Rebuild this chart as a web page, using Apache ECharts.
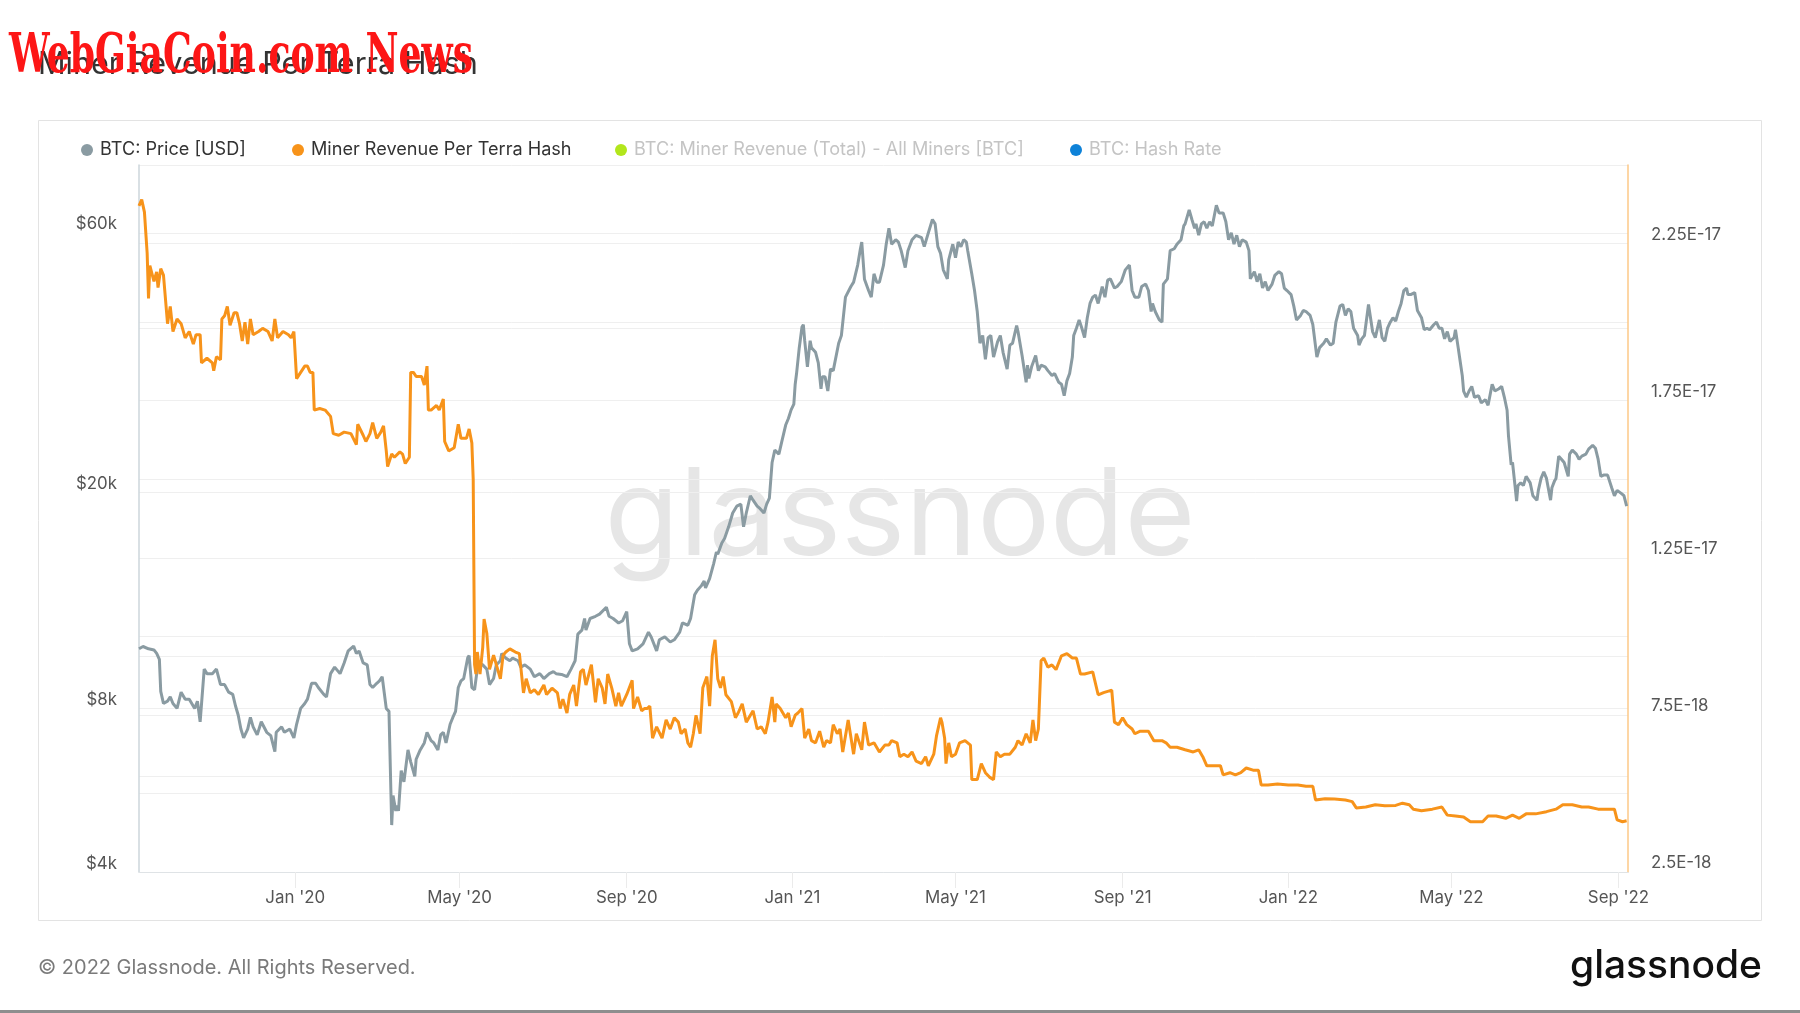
<!DOCTYPE html>
<html>
<head>
<meta charset="utf-8">
<script src="https://cdn.jsdelivr.net/npm/echarts@6/dist/echarts.min.js"></script>
<style>
html,body{margin:0;padding:0;background:#fff;}
#chart{width:1800px;height:1013px;}
</style>
</head>
<body>
<div id="chart"></div>
<script>
// ---------------- DATA ----------------
const titleText = 'Miner Revenue Per Terra Hash';
const legendNames = ['BTC: Price [USD]', 'Miner Revenue Per Terra Hash', 'BTC: Miner Revenue (Total) - All Miners [BTC]', 'BTC: Hash Rate'];
const xTickDates = ['2020-01-01','2020-05-01','2020-09-01','2021-01-01','2021-05-01','2021-09-01','2022-01-01','2022-05-01','2022-09-01'];
const xRange = ['2019-09-08', '2022-09-08'];
const monthNames = ['Jan','Feb','Mar','Apr','May','Jun','Jul','Aug','Sep','Oct','Nov','Dec'];
const leftGridValues = [4000, 6000, 8000, 10000, 20000, 40000, 60000];
const leftLabelValues = [4000, 8000, 20000, 60000];

// BTC price [USD]
const btcPrice = [
['2019-09-08',10300],['2019-09-11',10400],['2019-09-15',10300],['2019-09-19',10250],['2019-09-21',10100],['2019-09-23',9850],
['2019-09-24',8600],['2019-09-26',8170],['2019-09-29',8250],['2019-10-01',8400],['2019-10-03',8170],['2019-10-06',8000],
['2019-10-09',8570],['2019-10-12',8320],['2019-10-15',8320],['2019-10-19',8000],['2019-10-21',8250],['2019-10-23',7560],
['2019-10-26',9450],['2019-10-28',9270],['2019-11-01',9270],['2019-11-04',9450],['2019-11-07',8850],['2019-11-10',8850],
['2019-11-13',8570],['2019-11-16',8490],['2019-11-18',8090],['2019-11-20',7780],['2019-11-22',7330],['2019-11-24',7060],
['2019-11-27',7330],['2019-11-29',7700],['2019-12-01',7400],['2019-12-04',7150],['2019-12-07',7560],['2019-12-11',7230],
['2019-12-14',7130],['2019-12-17',6660],['2019-12-18',7230],['2019-12-22',7400],['2019-12-24',7230],['2019-12-28',7330],
['2019-12-31',7060],['2020-01-02',7480],['2020-01-05',8000],['2020-01-08',8170],['2020-01-10',8320],['2020-01-13',8900],
['2020-01-16',8900],['2020-01-18',8740],['2020-01-22',8490],['2020-01-24',8400],['2020-01-27',9270],['2020-01-30',9530],
['2020-02-03',9270],['2020-02-06',9700],['2020-02-09',10210],['2020-02-13',10420],['2020-02-15',10100],['2020-02-17',10200],
['2020-02-20',9700],['2020-02-23',9620],['2020-02-25',8850],['2020-02-27',8740],['2020-03-01',8900],['2020-03-03',8990],
['2020-03-05',9150],['2020-03-08',8000],['2020-03-10',7900],['2020-03-12',4880],['2020-03-13',5530],['2020-03-15',5180],
['2020-03-16',5300],['2020-03-17',5180],['2020-03-19',6150],['2020-03-21',5860],['2020-03-24',6710],['2020-03-26',6380],
['2020-03-29',6000],['2020-03-30',6450],['2020-04-02',6710],['2020-04-05',6910],['2020-04-07',7230],['2020-04-10',6980],
['2020-04-12',6910],['2020-04-15',6710],['2020-04-17',7150],['2020-04-19',7230],['2020-04-21',6910],['2020-04-24',7480],
['2020-04-26',7700],['2020-04-28',7900],['2020-04-30',8740],['2020-05-02',8990],['2020-05-04',9080],['2020-05-07',9920],
['2020-05-08',10010],['2020-05-10',8740],['2020-05-12',8660],['2020-05-14',9450],['2020-05-15',9700],['2020-05-18',9620],
['2020-05-21',9450],['2020-05-23',8850],['2020-05-26',9080],['2020-05-28',9620],['2020-05-31',9790],['2020-06-01',10100],
['2020-06-04',9900],['2020-06-07',9790],['2020-06-09',9900],['2020-06-13',9790],['2020-06-15',9530],['2020-06-18',9620],
['2020-06-22',9450],['2020-06-25',9150],['2020-06-29',9270],['2020-07-02',9080],['2020-07-06',9270],['2020-07-09',9350],
['2020-07-11',9270],['2020-07-15',9240],['2020-07-19',9150],['2020-07-22',9450],['2020-07-25',9790],['2020-07-27',10960],
['2020-07-30',11150],['2020-08-01',11710],['2020-08-02',11150],['2020-08-05',11710],['2020-08-09',11820],['2020-08-12',11930],
['2020-08-17',12280],['2020-08-19',11820],['2020-08-22',11710],['2020-08-26',11490],['2020-08-29',11600],['2020-09-01',12050],
['2020-09-03',10520],['2020-09-05',10210],['2020-09-09',10300],['2020-09-13',10520],['2020-09-17',11050],['2020-09-19',10830],
['2020-09-23',10210],['2020-09-25',10700],['2020-09-29',10830],['2020-10-03',10600],['2020-10-06',10700],['2020-10-10',11050],
['2020-10-12',11490],['2020-10-16',11380],['2020-10-18',11710],['2020-10-21',12950],['2020-10-23',13200],['2020-10-26',13460],
['2020-10-28',13720],['2020-10-29',13330],['2020-11-01',13860],['2020-11-04',14780],['2020-11-06',15520],['2020-11-07',15370],
['2020-11-10',16130],['2020-11-12',16440],['2020-11-15',17270],['2020-11-18',18310],['2020-11-21',18850],['2020-11-24',19010],
['2020-11-26',17270],['2020-11-28',18310],['2020-12-01',19700],['2020-12-03',19330],['2020-12-06',18850],['2020-12-08',18670],
['2020-12-11',18310],['2020-12-13',19010],['2020-12-15',19500],['2020-12-17',22680],['2020-12-19',23900],['2020-12-22',23500],
['2020-12-24',24700],['2020-12-27',26580],['2020-12-29',27330],['2020-12-31',28340],['2021-01-02',29040],['2021-01-03',31600],
['2021-01-04',33060],['2021-01-06',36890],['2021-01-08',40270],['2021-01-09',40660],['2021-01-10',38000],['2021-01-12',34020],
['2021-01-14',38000],['2021-01-15',36890],['2021-01-18',36170],['2021-01-20',34600],['2021-01-22',31000],['2021-01-23',32600],
['2021-01-25',32600],['2021-01-27',30700],['2021-01-29',33700],['2021-01-31',33470],['2021-02-04',37600],['2021-02-06',38840],
['2021-02-09',45700],['2021-02-10',46000],['2021-02-13',47800],['2021-02-15',48700],['2021-02-18',52350],['2021-02-20',56100],
['2021-02-21',57700],['2021-02-23',49300],['2021-02-26',47000],['2021-02-28',45700],['2021-03-02',50450],['2021-03-04',48700],
['2021-03-06',48700],['2021-03-09',52350],['2021-03-11',57200],['2021-03-13',61200],['2021-03-15',57200],['2021-03-18',58300],
['2021-03-20',57700],['2021-03-22',55650],['2021-03-25',51800],['2021-03-27',55650],['2021-03-30',58300],['2021-04-02',59400],
['2021-04-06',58800],['2021-04-08',56600],['2021-04-11',60000],['2021-04-14',63500],['2021-04-16',62350],['2021-04-18',56600],
['2021-04-20',55000],['2021-04-22',51300],['2021-04-25',49390],['2021-04-26',53500],['2021-04-29',57200],['2021-05-01',54000],
['2021-05-03',57700],['2021-05-05',56600],['2021-05-07',58300],['2021-05-09',57700],['2021-05-10',55650],['2021-05-13',50400],
['2021-05-15',47000],['2021-05-17',43000],['2021-05-19',37600],['2021-05-21',38840],['2021-05-23',35100],['2021-05-25',38500],
['2021-05-27',38840],['2021-05-29',35450],['2021-06-01',37850],['2021-06-03',38840],['2021-06-05',36170],['2021-06-08',33700],
['2021-06-10',37290],['2021-06-12',37600],['2021-06-15',40500],['2021-06-16',39500],['2021-06-19',35700],['2021-06-22',31850],
['2021-06-23',34250],['2021-06-24',32400],['2021-06-26',34020],['2021-06-29',35700],['2021-07-01',33470],['2021-07-03',34250],
['2021-07-06',34020],['2021-07-08',33470],['2021-07-11',32800],['2021-07-13',33060],['2021-07-16',31850],['2021-07-18',31600],
['2021-07-20',30100],['2021-07-22',32050],['2021-07-24',33060],['2021-07-26',35450],['2021-07-27',38840],['2021-07-29',40060],
['2021-07-31',41500],['2021-08-02',40060],['2021-08-04',38500],['2021-08-06',41890],['2021-08-08',44500],['2021-08-10',45700],
['2021-08-12',46100],['2021-08-14',44500],['2021-08-17',47800],['2021-08-19',45700],['2021-08-21',49100],['2021-08-23',49390],
['2021-08-26',47500],['2021-08-28',47800],['2021-08-31',48800],['2021-09-03',51300],['2021-09-06',52350],['2021-09-08',47000],
['2021-09-10',45700],['2021-09-13',45700],['2021-09-15',47800],['2021-09-18',48300],['2021-09-20',47000],['2021-09-22',43000],
['2021-09-23',44500],['2021-09-25',43000],['2021-09-28',41500],['2021-09-30',41100],['2021-10-01',48300],['2021-10-04',49390],
['2021-10-06',55650],['2021-10-09',56100],['2021-10-11',57200],['2021-10-14',58300],['2021-10-16',61800],['2021-10-17',62350],
['2021-10-20',66130],['2021-10-22',63500],['2021-10-24',61200],['2021-10-25',62350],['2021-10-27',59400],['2021-10-29',62350],
['2021-10-31',62900],['2021-11-02',61200],['2021-11-04',62900],['2021-11-06',61800],['2021-11-09',67450],['2021-11-11',65300],
['2021-11-14',65300],['2021-11-16',62900],['2021-11-18',58300],['2021-11-20',60000],['2021-11-22',57200],['2021-11-24',59400],
['2021-11-26',56600],['2021-11-28',58300],['2021-12-01',57700],['2021-12-03',55650],['2021-12-04',49390],['2021-12-07',50900],
['2021-12-09',48800],['2021-12-11',50450],['2021-12-13',47500],['2021-12-15',48800],['2021-12-17',47000],['2021-12-20',48300],
['2021-12-22',50100],['2021-12-25',50900],['2021-12-27',50450],['2021-12-29',47500],['2021-12-31',47000],['2022-01-03',46200],
['2022-01-05',44000],['2022-01-07',41500],['2022-01-10',42300],['2022-01-12',43200],['2022-01-14',43000],['2022-01-17',42300],
['2022-01-19',40700],['2022-01-22',35450],['2022-01-24',36900],['2022-01-27',37600],['2022-01-29',38300],['2022-02-01',37300],
['2022-02-03',37600],['2022-02-05',41100],['2022-02-08',44000],['2022-02-10',44300],['2022-02-12',42300],['2022-02-14',43500],
['2022-02-16',43000],['2022-02-18',40060],['2022-02-21',38840],['2022-02-22',37300],['2022-02-24',38300],['2022-02-26',38840],
['2022-03-01',44300],['2022-03-02',44000],['2022-03-04',39500],['2022-03-06',38500],['2022-03-09',41500],['2022-03-11',38500],
['2022-03-13',37900],['2022-03-15',40060],['2022-03-17',41100],['2022-03-19',41890],['2022-03-21',41300],['2022-03-23',43000],
['2022-03-25',44500],['2022-03-27',47000],['2022-03-29',47500],['2022-03-30',46200],['2022-04-01',46200],['2022-04-04',46600],
['2022-04-06',43200],['2022-04-09',41890],['2022-04-11',39800],['2022-04-13',40060],['2022-04-15',39800],['2022-04-18',40660],
['2022-04-20',41100],['2022-04-22',40060],['2022-04-24',40060],['2022-04-26',38300],['2022-04-28',39500],['2022-04-30',37900],
['2022-05-03',38500],['2022-05-04',39800],['2022-05-06',36900],['2022-05-07',35450],['2022-05-09',32800],['2022-05-10',30700],
['2022-05-12',29900],['2022-05-14',30700],['2022-05-16',31300],['2022-05-18',29900],['2022-05-21',30100],['2022-05-23',29200],
['2022-05-26',29600],['2022-05-28',28900],['2022-05-31',31600],['2022-06-02',30700],['2022-06-05',31000],['2022-06-07',31300],
['2022-06-09',29900],['2022-06-11',28300],['2022-06-12',25450],['2022-06-14',22460],['2022-06-15',22680],['2022-06-17',20380],
['2022-06-18',19250],['2022-06-19',20570],['2022-06-21',20800],['2022-06-23',20570],['2022-06-25',21390],['2022-06-28',20800],
['2022-06-30',19700],['2022-07-03',19330],['2022-07-04',20150],['2022-07-06',21200],['2022-07-08',21800],['2022-07-10',21200],
['2022-07-13',19330],['2022-07-14',20380],['2022-07-16',21000],['2022-07-17',21200],['2022-07-19',23300],['2022-07-21',23000],
['2022-07-23',22680],['2022-07-26',21390],['2022-07-27',23500],['2022-07-29',23900],['2022-08-01',23500],['2022-08-03',23000],
['2022-08-05',23300],['2022-08-08',23500],['2022-08-10',24000],['2022-08-13',24400],['2022-08-15',24100],['2022-08-17',23000],
['2022-08-19',21390],['2022-08-21',21500],['2022-08-24',21500],['2022-08-25',21650],['2022-08-27',20380],['2022-08-29',19700],
['2022-08-31',20150],['2022-09-03',19900],['2022-09-05',19700],['2022-09-07',18860]
];

// Miner revenue per terra hash
const revenuePerTH = [
['2019-09-08',23.7e-18],['2019-09-10',23.9e-18],['2019-09-12',23.5e-18],['2019-09-14',22.2e-18],['2019-09-15',20.75e-18],
['2019-09-16',21.8e-18],['2019-09-19',21.3e-18],['2019-09-21',21.6e-18],['2019-09-22',21.1e-18],['2019-09-24',21.7e-18],
['2019-09-26',21.5e-18],['2019-09-29',19.95e-18],['2019-10-01',20.5e-18],['2019-10-03',19.7e-18],['2019-10-06',20.1e-18],
['2019-10-09',19.95e-18],['2019-10-12',19.5e-18],['2019-10-15',19.7e-18],['2019-10-18',19.3e-18],['2019-10-20',19.6e-18],
['2019-10-23',19.6e-18],['2019-10-24',18.7e-18],['2019-10-28',18.85e-18],['2019-11-01',18.7e-18],['2019-11-02',18.45e-18],
['2019-11-04',18.9e-18],['2019-11-07',18.8e-18],['2019-11-08',20.1e-18],['2019-11-10',20.2e-18],['2019-11-12',20.5e-18],
['2019-11-14',19.9e-18],['2019-11-17',20.3e-18],['2019-11-19',20.3e-18],['2019-11-21',19.95e-18],['2019-11-23',19.4e-18],
['2019-11-25',20.0e-18],['2019-11-27',19.3e-18],['2019-11-29',20.1e-18],['2019-12-01',19.6e-18],['2019-12-05',19.7e-18],
['2019-12-08',19.8e-18],['2019-12-12',19.7e-18],['2019-12-15',19.4e-18],['2019-12-17',20.1e-18],['2019-12-19',19.5e-18],
['2019-12-23',19.7e-18],['2019-12-27',19.6e-18],['2019-12-29',19.5e-18],['2019-12-31',19.7e-18],['2020-01-02',18.2e-18],
['2020-01-05',18.4e-18],['2020-01-08',18.6e-18],['2020-01-10',18.6e-18],['2020-01-12',18.4e-18],['2020-01-14',18.4e-18],
['2020-01-15',17.2e-18],['2020-01-19',17.25e-18],['2020-01-23',17.2e-18],['2020-01-27',17.0e-18],['2020-01-29',16.45e-18],
['2020-02-02',16.4e-18],['2020-02-06',16.5e-18],['2020-02-11',16.45e-18],['2020-02-15',16.1e-18],['2020-02-16',16.75e-18],
['2020-02-20',16.4e-18],['2020-02-22',16.2e-18],['2020-02-25',16.45e-18],['2020-02-27',16.8e-18],['2020-03-01',16.3e-18],
['2020-03-04',16.5e-18],['2020-03-06',16.7e-18],['2020-03-08',15.9e-18],['2020-03-09',15.4e-18],['2020-03-12',15.8e-18],
['2020-03-14',15.7e-18],['2020-03-18',15.87e-18],['2020-03-20',15.8e-18],['2020-03-22',15.5e-18],['2020-03-25',15.7e-18],
['2020-03-26',18.4e-18],['2020-03-28',18.4e-18],['2020-03-30',18.27e-18],['2020-04-03',18.27e-18],['2020-04-05',18.0e-18],
['2020-04-07',18.6e-18],['2020-04-08',17.2e-18],['2020-04-10',17.2e-18],['2020-04-14',17.35e-18],['2020-04-16',17.2e-18],
['2020-04-19',17.55e-18],['2020-04-20',16.2e-18],['2020-04-23',15.9e-18],['2020-04-27',16.0e-18],['2020-04-30',16.75e-18],
['2020-05-02',16.3e-18],['2020-05-06',16.3e-18],['2020-05-08',16.6e-18],['2020-05-10',16.15e-18],['2020-05-11',15.0e-18],
['2020-05-12',9.1e-18],['2020-05-13',8.8e-18],['2020-05-14',9.5e-18],['2020-05-16',8.8e-18],['2020-05-18',9.65e-18],
['2020-05-19',10.55e-18],['2020-05-21',10.1e-18],['2020-05-23',8.95e-18],['2020-05-26',9.4e-18],['2020-05-28',9.1e-18],
['2020-05-31',8.65e-18],['2020-06-02',9.4e-18],['2020-06-04',9.5e-18],['2020-06-07',9.6e-18],['2020-06-11',9.5e-18],
['2020-06-14',9.45e-18],['2020-06-17',8.2e-18],['2020-06-19',8.65e-18],['2020-06-22',8.2e-18],['2020-06-25',8.3e-18],
['2020-06-28',8.15e-18],['2020-07-02',8.45e-18],['2020-07-04',8.15e-18],['2020-07-08',8.35e-18],['2020-07-12',8.2e-18],
['2020-07-14',7.7e-18],['2020-07-16',8.0e-18],['2020-07-19',7.56e-18],['2020-07-21',8.15e-18],['2020-07-24',8.45e-18],
['2020-07-26',7.78e-18],['2020-07-29',8.87e-18],['2020-07-31',8.95e-18],['2020-08-02',8.45e-18],['2020-08-06',9.1e-18],
['2020-08-09',7.9e-18],['2020-08-11',8.65e-18],['2020-08-14',8.35e-18],['2020-08-16',7.85e-18],['2020-08-18',8.8e-18],
['2020-08-21',8.35e-18],['2020-08-24',7.78e-18],['2020-08-26',8.2e-18],['2020-08-28',7.78e-18],['2020-09-01',8.15e-18],
['2020-09-05',8.6e-18],['2020-09-06',7.7e-18],['2020-09-09',8.07e-18],['2020-09-12',7.63e-18],['2020-09-14',7.7e-18],
['2020-09-16',7.7e-18],['2020-09-18',7.78e-18],['2020-09-20',6.76e-18],['2020-09-23',7.12e-18],['2020-09-27',6.76e-18],
['2020-09-30',7.34e-18],['2020-10-03',7.05e-18],['2020-10-06',7.41e-18],['2020-10-09',7.27e-18],['2020-10-11',6.9e-18],
['2020-10-14',7.05e-18],['2020-10-16',6.61e-18],['2020-10-18',6.47e-18],['2020-10-20',6.9e-18],['2020-10-22',7.49e-18],
['2020-10-25',6.9e-18],['2020-10-27',8.36e-18],['2020-10-30',8.72e-18],['2020-11-01',7.78e-18],['2020-11-03',9.38e-18],
['2020-11-05',9.89e-18],['2020-11-07',8.65e-18],['2020-11-09',8.36e-18],['2020-11-11',8.72e-18],['2020-11-13',8.14e-18],
['2020-11-17',7.92e-18],['2020-11-20',7.41e-18],['2020-11-22',7.56e-18],['2020-11-25',7.85e-18],['2020-11-28',7.27e-18],
['2020-12-01',7.49e-18],['2020-12-03',7.63e-18],['2020-12-06',7.05e-18],['2020-12-09',7.12e-18],['2020-12-12',6.9e-18],
['2020-12-14',7.27e-18],['2020-12-17',8.07e-18],['2020-12-19',7.27e-18],['2020-12-20',7.85e-18],['2020-12-23',7.7e-18],
['2020-12-27',7.41e-18],['2020-12-29',7.56e-18],['2020-12-31',7.12e-18],['2021-01-03',7.49e-18],['2021-01-05',7.56e-18],
['2021-01-08',7.7e-18],['2021-01-10',6.76e-18],['2021-01-13',7.05e-18],['2021-01-15',6.68e-18],['2021-01-18',6.61e-18],
['2021-01-21',6.98e-18],['2021-01-24',6.47e-18],['2021-01-26',6.68e-18],['2021-01-29',6.61e-18],['2021-01-31',7.19e-18],
['2021-02-03',6.9e-18],['2021-02-05',7.05e-18],['2021-02-07',6.32e-18],['2021-02-11',7.34e-18],['2021-02-15',6.25e-18],
['2021-02-17',6.9e-18],['2021-02-21',6.39e-18],['2021-02-23',7.27e-18],['2021-02-26',6.54e-18],['2021-03-02',6.61e-18],
['2021-03-06',6.32e-18],['2021-03-10',6.54e-18],['2021-03-13',6.54e-18],['2021-03-15',6.68e-18],['2021-03-19',6.61e-18],
['2021-03-21',6.17e-18],['2021-03-24',6.25e-18],['2021-03-27',6.17e-18],['2021-03-30',6.32e-18],['2021-04-02',6.03e-18],
['2021-04-06',5.95e-18],['2021-04-09',6.17e-18],['2021-04-11',5.88e-18],['2021-04-15',6.25e-18],['2021-04-17',6.83e-18],
['2021-04-20',7.41e-18],['2021-04-21',7.27e-18],['2021-04-23',6.76e-18],['2021-04-24',5.95e-18],['2021-04-26',6.61e-18],
['2021-04-28',6.17e-18],['2021-05-01',6.25e-18],['2021-05-04',6.61e-18],['2021-05-08',6.68e-18],['2021-05-12',6.54e-18],
['2021-05-13',5.44e-18],['2021-05-17',5.44e-18],['2021-05-20',5.95e-18],['2021-05-23',5.66e-18],['2021-05-26',5.52e-18],
['2021-05-29',5.44e-18],['2021-05-31',6.32e-18],['2021-06-03',6.17e-18],['2021-06-06',6.25e-18],['2021-06-10',6.25e-18],
['2021-06-14',6.47e-18],['2021-06-16',6.68e-18],['2021-06-19',6.54e-18],['2021-06-22',6.9e-18],['2021-06-25',6.61e-18],
['2021-06-27',7.34e-18],['2021-06-29',6.68e-18],['2021-07-01',7.05e-18],['2021-07-03',9.23e-18],['2021-07-05',9.31e-18],
['2021-07-08',9.02e-18],['2021-07-11',9.09e-18],['2021-07-14',8.94e-18],['2021-07-18',9.38e-18],['2021-07-22',9.45e-18],
['2021-07-26',9.31e-18],['2021-07-29',9.31e-18],['2021-08-01',8.8e-18],['2021-08-04',8.8e-18],['2021-08-10',8.87e-18],
['2021-08-14',8.14e-18],['2021-08-18',8.21e-18],['2021-08-24',8.29e-18],['2021-08-26',7.27e-18],['2021-08-29',7.19e-18],
['2021-09-01',7.41e-18],['2021-09-04',7.19e-18],['2021-09-08',7.05e-18],['2021-09-10',6.9e-18],['2021-09-14',6.98e-18],
['2021-09-20',6.98e-18],['2021-09-24',6.68e-18],['2021-09-30',6.68e-18],['2021-10-03',6.61e-18],['2021-10-06',6.47e-18],
['2021-10-11',6.47e-18],['2021-10-17',6.39e-18],['2021-10-23',6.32e-18],['2021-10-27',6.39e-18],['2021-10-30',6.17e-18],
['2021-11-02',5.88e-18],['2021-11-08',5.88e-18],['2021-11-12',5.88e-18],['2021-11-14',5.59e-18],['2021-11-19',5.66e-18],
['2021-11-23',5.59e-18],['2021-11-27',5.66e-18],['2021-12-01',5.81e-18],['2021-12-06',5.74e-18],['2021-12-10',5.74e-18],
['2021-12-12',5.27e-18],['2021-12-17',5.27e-18],['2021-12-24',5.3e-18],['2022-01-01',5.27e-18],['2022-01-08',5.27e-18],
['2022-01-14',5.23e-18],['2022-01-19',5.23e-18],['2022-01-21',4.79e-18],['2022-01-28',4.83e-18],['2022-02-04',4.82e-18],
['2022-02-12',4.79e-18],['2022-02-17',4.74e-18],['2022-02-20',4.54e-18],['2022-02-27',4.57e-18],['2022-03-06',4.64e-18],
['2022-03-13',4.61e-18],['2022-03-21',4.62e-18],['2022-03-26',4.69e-18],['2022-03-31',4.64e-18],['2022-04-03',4.5e-18],
['2022-04-09',4.45e-18],['2022-04-17',4.5e-18],['2022-04-24',4.57e-18],['2022-04-28',4.31e-18],['2022-05-04',4.28e-18],
['2022-05-10',4.25e-18],['2022-05-15',4.1e-18],['2022-05-24',4.1e-18],['2022-05-28',4.28e-18],['2022-06-03',4.28e-18],
['2022-06-10',4.21e-18],['2022-06-15',4.31e-18],['2022-06-20',4.21e-18],['2022-06-25',4.35e-18],['2022-07-02',4.35e-18],
['2022-07-10',4.42e-18],['2022-07-17',4.5e-18],['2022-07-22',4.64e-18],['2022-07-29',4.64e-18],['2022-08-05',4.57e-18],
['2022-08-10',4.57e-18],['2022-08-17',4.5e-18],['2022-08-25',4.5e-18],['2022-08-29',4.5e-18],['2022-08-31',4.16e-18],
['2022-09-04',4.1e-18],['2022-09-07',4.13e-18]
];

// ---------------- STYLE / LAYOUT ----------------
const FONT = 'Inter, "Noto Sans", sans-serif';
const measureCtx = document.createElement('canvas').getContext('2d');
function fitSize(text, weight, family, width) {
  measureCtx.font = weight + ' 100px ' + family;
  return 100 * width / measureCtx.measureText(text).width;
}
function textScale(text, weight, size, family, width) {
  measureCtx.font = weight + ' ' + size + 'px ' + family;
  return width / measureCtx.measureText(text).width;
}
const titleSize = fitSize(titleText, 400, FONT, 440);
const legendSize = fitSize(legendNames[2], 400, FONT, 390);
const axisSize = fitSize('2.25E-17', 400, FONT, 70);
const footerText = '\u00A9 2022 Glassnode. All Rights Reserved.';
const footerSize = fitSize(footerText, 400, FONT, 378);
const logoSize = fitSize('glassnode', 500, FONT, 192);
const wmSize = fitSize('glassnode', 400, FONT, 591);
const redText = 'WebGiaCoin.com News';
const redSize = 54;
const redScale = textScale(redText, 'bold', redSize, '"DejaVu Serif"', 464);

const C_PRICE = '#8a9ba2';
const C_REV = '#f7931a';
const C_GREEN = '#b2e61c';
const C_BLUE = '#0e82d8';
const legendColors = [C_PRICE, C_REV, C_GREEN, C_BLUE];
const legendLefts = [76, 287, 610, 1065];
const legendTextColors = ['#333', '#333', '#c4c4c4', '#c4c4c4'];

const toTime = s => Date.parse(s);
const priceData = btcPrice.map(p => [toTime(p[0]), p[1]]);
const revenueData = revenuePerTH.map(p => [toTime(p[0]), p[1]]);
const xTickTimes = xTickDates.map(toTime);

const chart = echarts.init(document.getElementById('chart'), null, {renderer: 'canvas'});

const legends = legendNames.map((n, i) => ({
  left: legendLefts[i], top: 136,
  icon: 'circle', itemWidth: 16, itemHeight: 12, itemGap: 0,
  selectedMode: false,
  textStyle: {fontFamily: FONT, fontSize: legendSize, color: legendTextColors[i]},
  data: [{name: n, itemStyle: {color: legendColors[i]}}]
}));

const option = {
  animation: false,
  backgroundColor: '#ffffff',
  textStyle: {fontFamily: FONT},
  legend: legends,
  grid: {left: 139, right: 172, top: 165, bottom: 141, containLabel: false},
  xAxis: {
    type: 'value',
    min: toTime(xRange[0]),
    max: toTime(xRange[1]),
    axisLine: {show: true, lineStyle: {color: '#dfe3e6', width: 1}},
    axisTick: {show: true, length: 16, customValues: xTickTimes, lineStyle: {color: '#ebebeb'}},
    axisLabel: {
      customValues: xTickTimes,
      color: '#555', fontSize: axisSize, fontFamily: FONT, margin: 17,
      formatter: function (v) { const d = new Date(v); return monthNames[d.getUTCMonth()] + " '" + String(d.getUTCFullYear()).slice(2); }
    },
    splitLine: {show: false}
  },
  yAxis: [
    {
      type: 'log', logBase: 10, min: 4000, max: 80000, position: 'left',
      axisLine: {show: true, lineStyle: {color: '#cdd6db', width: 1.5}},
      axisTick: {show: false, customValues: leftGridValues},
      axisLabel: {
        customValues: leftLabelValues,
        color: '#555', fontSize: axisSize, fontFamily: FONT, margin: 22,
        verticalAlign: 'bottom', lineHeight: 17,
        formatter: function (v) { return '$' + Math.round(v / 1000) + 'k'; }
      },
      splitLine: {show: true, lineStyle: {color: '#efefef', width: 1}}
    },
    {
      type: 'value', min: 2.5e-18, max: 2.5e-17, interval: 2.5e-18, position: 'right',
      axisLine: {show: true, lineStyle: {color: '#fdc987', width: 1.5}},
      axisTick: {show: false},
      axisLabel: {
        color: '#555', fontSize: axisSize, fontFamily: FONT, margin: 23,
        verticalAlign: 'bottom', lineHeight: 18,
        formatter: function (v) {
          const k = Math.round(v / 2.5e-18);
          if (k % 2 === 0) return '';
          return Number(v.toPrecision(3)).toExponential().toUpperCase();
        }
      },
      splitLine: {show: true, lineStyle: {color: '#efefef', width: 1}}
    }
  ],
  series: [
    {
      name: legendNames[0], type: 'line', yAxisIndex: 0, data: priceData,
      showSymbol: false, symbol: 'none', z: 3,
      lineStyle: {color: C_PRICE, width: 3}, itemStyle: {color: C_PRICE}
    },
    {
      name: legendNames[1], type: 'line', yAxisIndex: 1, data: revenueData,
      showSymbol: false, symbol: 'none', z: 4,
      lineStyle: {color: C_REV, width: 3}, itemStyle: {color: C_REV}
    },
    {
      name: legendNames[2], type: 'line', yAxisIndex: 1, data: [],
      showSymbol: false, lineStyle: {color: C_GREEN}, itemStyle: {color: C_GREEN}
    },
    {
      name: legendNames[3], type: 'line', yAxisIndex: 1, data: [],
      showSymbol: false, lineStyle: {color: C_BLUE}, itemStyle: {color: C_BLUE}
    }
  ],
  graphic: [
    {type: 'rect', z: -10, silent: true, shape: {x: 38.5, y: 120.5, width: 1723, height: 800},
      style: {fill: '#ffffff', stroke: '#e3e3e3', lineWidth: 1}},
    {type: 'text', z: -5, silent: true, x: 900, y: 518,
      style: {text: 'glassnode', font: '400 ' + wmSize + 'px ' + FONT, fill: '#e6e6e6', align: 'center', verticalAlign: 'middle'}},
    {type: 'text', z: 50, silent: true, x: 38, y: 65,
      style: {text: titleText, font: '400 ' + titleSize + 'px ' + FONT, fill: '#333333', align: 'left', verticalAlign: 'middle'}},
    {type: 'text', z: 50, silent: true, x: 38, y: 968,
      style: {text: footerText, font: '400 ' + footerSize + 'px ' + FONT, fill: '#7a7a7a', align: 'left', verticalAlign: 'middle'}},
    {type: 'text', z: 50, silent: true, x: 1762, y: 966,
      style: {text: 'glassnode', font: '500 ' + logoSize + 'px ' + FONT, fill: '#111111', align: 'right', verticalAlign: 'middle'}},
    {type: 'rect', z: 50, silent: true, shape: {x: 0, y: 1010, width: 1800, height: 3}, style: {fill: '#8e8e8e'}},
    {type: 'text', z: 100, silent: true, x: 9, y: 58, scaleX: redScale, scaleY: 1,
      style: {text: redText, font: 'bold ' + redSize + 'px "DejaVu Serif"', fill: '#fd1616', align: 'left', verticalAlign: 'middle'}}
  ]
};
chart.setOption(option);
</script>
</body>
</html>
